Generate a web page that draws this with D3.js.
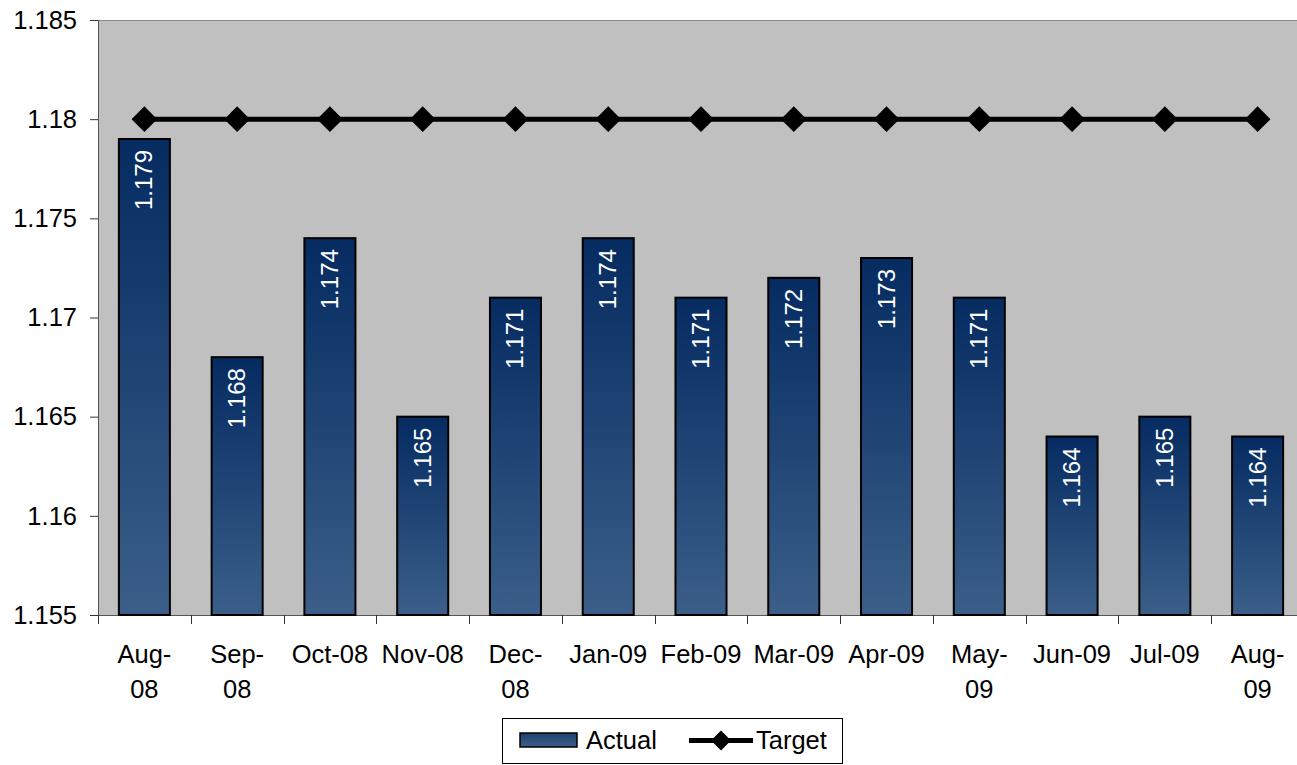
<!DOCTYPE html>
<html>
<head>
<meta charset="utf-8">
<script src="https://cdn.jsdelivr.net/npm/d3@7"></script>
<style>
  html, body { margin: 0; padding: 0; background: #ffffff; overflow: hidden; }
  svg { display: block; font-family: "Liberation Sans", Arial, sans-serif; }
</style>
</head>
<body>
<svg id="chart" width="1297" height="765"></svg>
<script>
// Monthly actual values against a fixed target
const categories = ["Aug-08", "Sep-08", "Oct-08", "Nov-08", "Dec-08", "Jan-09", "Feb-09",
                    "Mar-09", "Apr-09", "May-09", "Jun-09", "Jul-09", "Aug-09"];
const tickLines = [["Aug-", "08"], ["Sep-", "08"], ["Oct-08"], ["Nov-08"], ["Dec-", "08"],
                   ["Jan-09"], ["Feb-09"], ["Mar-09"], ["Apr-09"], ["May-", "09"],
                   ["Jun-09"], ["Jul-09"], ["Aug-", "09"]];
const actual = [1.179, 1.168, 1.174, 1.165, 1.171, 1.174, 1.171, 1.172, 1.173, 1.171, 1.164, 1.165, 1.164];
const target = [1.18, 1.18, 1.18, 1.18, 1.18, 1.18, 1.18, 1.18, 1.18, 1.18, 1.18, 1.18, 1.18];
const yTicks = [1.155, 1.16, 1.165, 1.17, 1.175, 1.18, 1.185];
const yTickLabels = ["1.155", "1.16", "1.165", "1.17", "1.175", "1.18", "1.185"];

const svg = d3.select("#chart");
const plot = { left: 98, right: 1304, top: 20, bottom: 615 };
const axisFont = 25.5;

const x = d3.scaleBand().domain(categories).range([plot.left, plot.right]).paddingInner(0.45).paddingOuter(0.225);
const xOuter = d3.scaleBand().domain(categories).range([plot.left, plot.right]);
const y = d3.scaleLinear().domain([1.155, 1.185]).range([plot.bottom, plot.top]);

const defs = svg.append("defs");
const grad = defs.append("linearGradient").attr("id", "barGrad")
  .attr("x1", 0).attr("y1", 0).attr("x2", 0).attr("y2", 1);
grad.append("stop").attr("offset", "0%").attr("stop-color", "#052b61");
grad.append("stop").attr("offset", "100%").attr("stop-color", "#3b5f89");

const legendGrad = defs.append("linearGradient").attr("id", "legGrad")
  .attr("x1", 0).attr("y1", 0).attr("x2", 0).attr("y2", 1);
legendGrad.append("stop").attr("offset", "0%").attr("stop-color", "#1d3f6e");
legendGrad.append("stop").attr("offset", "100%").attr("stop-color", "#3b5f89");

// plot background
svg.append("rect")
  .attr("x", plot.left).attr("y", plot.top)
  .attr("width", plot.right - plot.left).attr("height", plot.bottom - plot.top)
  .attr("fill", "#c0c0c0");
svg.append("line")
  .attr("x1", plot.left).attr("x2", plot.right)
  .attr("y1", plot.top + 0.5).attr("y2", plot.top + 0.5)
  .attr("stroke", "#8c8c8c").attr("stroke-width", 1);

// y axis
const yAxis = d3.axisLeft(y).tickValues(yTicks)
  .tickFormat((d, i) => yTickLabels[i]).tickSize(8).tickPadding(13);
const yg = svg.append("g").attr("transform", `translate(${plot.left},0)`).call(yAxis);
yg.select(".domain").attr("stroke", "#555");
yg.selectAll(".tick line").attr("stroke", "#333");
yg.selectAll(".tick text").attr("font-size", axisFont).attr("fill", "#000")
  .attr("font-family", "Liberation Sans, Arial, sans-serif");

// x axis: ticks at category boundaries
const xg = svg.append("g").attr("transform", `translate(0,${plot.bottom})`);
xg.append("line").attr("x1", plot.left).attr("x2", plot.right)
  .attr("y1", 0.5).attr("y2", 0.5).attr("stroke", "#555");
const boundaries = categories.map(c => xOuter(c)).concat([plot.right]);
xg.selectAll("line.tk").data(boundaries).join("line").attr("class", "tk")
  .attr("x1", d => Math.round(d) + 0.5).attr("x2", d => Math.round(d) + 0.5)
  .attr("y1", 0).attr("y2", 9).attr("stroke", "#333");

xg.selectAll("text.lbl").data(categories).join("text").attr("class", "lbl")
  .attr("x", d => xOuter(d) + xOuter.bandwidth() / 2)
  .attr("y", 48)
  .attr("text-anchor", "middle")
  .attr("font-size", axisFont).attr("fill", "#000")
  .each(function(d, i) {
    d3.select(this).selectAll("tspan").data(tickLines[i]).join("tspan")
      .attr("x", xOuter(d) + xOuter.bandwidth() / 2)
      .attr("dy", (t, j) => j === 0 ? 0 : 35)
      .text(t => t);
  });

// bars
svg.append("g").selectAll("rect").data(actual).join("rect")
  .attr("x", (d, i) => x(categories[i]))
  .attr("y", d => y(d))
  .attr("width", x.bandwidth())
  .attr("height", d => plot.bottom - y(d))
  .attr("fill", "url(#barGrad)")
  .attr("stroke", "#000").attr("stroke-width", 2);

// value labels, rotated inside the bars
svg.append("g").selectAll("text").data(actual).join("text")
  .attr("transform", (d, i) => `translate(${x(categories[i]) + x.bandwidth() / 2 + 8},${y(d) + 11}) rotate(-90)`)
  .attr("text-anchor", "end")
  .attr("font-size", 24).attr("fill", "#fff")
  .text(d => d3.format(".3f")(d));

// target line with diamond markers
const line = d3.line().x((d, i) => xOuter(categories[i]) + xOuter.bandwidth() / 2).y(d => y(d));
svg.append("path").datum(target).attr("d", line)
  .attr("fill", "none").attr("stroke", "#000").attr("stroke-width", 5);
svg.append("g").selectAll("path").data(target).join("path")
  .attr("transform", (d, i) => `translate(${xOuter(categories[i]) + xOuter.bandwidth() / 2},${y(d)}) rotate(45)`)
  .attr("d", d3.symbol().type(d3.symbolSquare).size(330))
  .attr("fill", "#000");

// legend
const lg = svg.append("g");
lg.append("rect").attr("x", 502.5).attr("y", 718.5).attr("width", 340).attr("height", 45)
  .attr("fill", "#fff").attr("stroke", "#000").attr("stroke-width", 1);
lg.append("rect").attr("x", 520).attr("y", 733).attr("width", 57).attr("height", 14)
  .attr("fill", "url(#legGrad)").attr("stroke", "#000").attr("stroke-width", 1.5);
lg.append("text").attr("x", 586).attr("y", 749).attr("font-size", axisFont).text("Actual");
lg.append("line").attr("x1", 689).attr("x2", 753).attr("y1", 740.5).attr("y2", 740.5)
  .attr("stroke", "#000").attr("stroke-width", 5);
lg.append("path").attr("transform", "translate(721,740.5) rotate(45)")
  .attr("d", d3.symbol().type(d3.symbolSquare).size(200)).attr("fill", "#000");
lg.append("text").attr("x", 756).attr("y", 749).attr("font-size", axisFont).text("Target");
</script>
</body>
</html>
